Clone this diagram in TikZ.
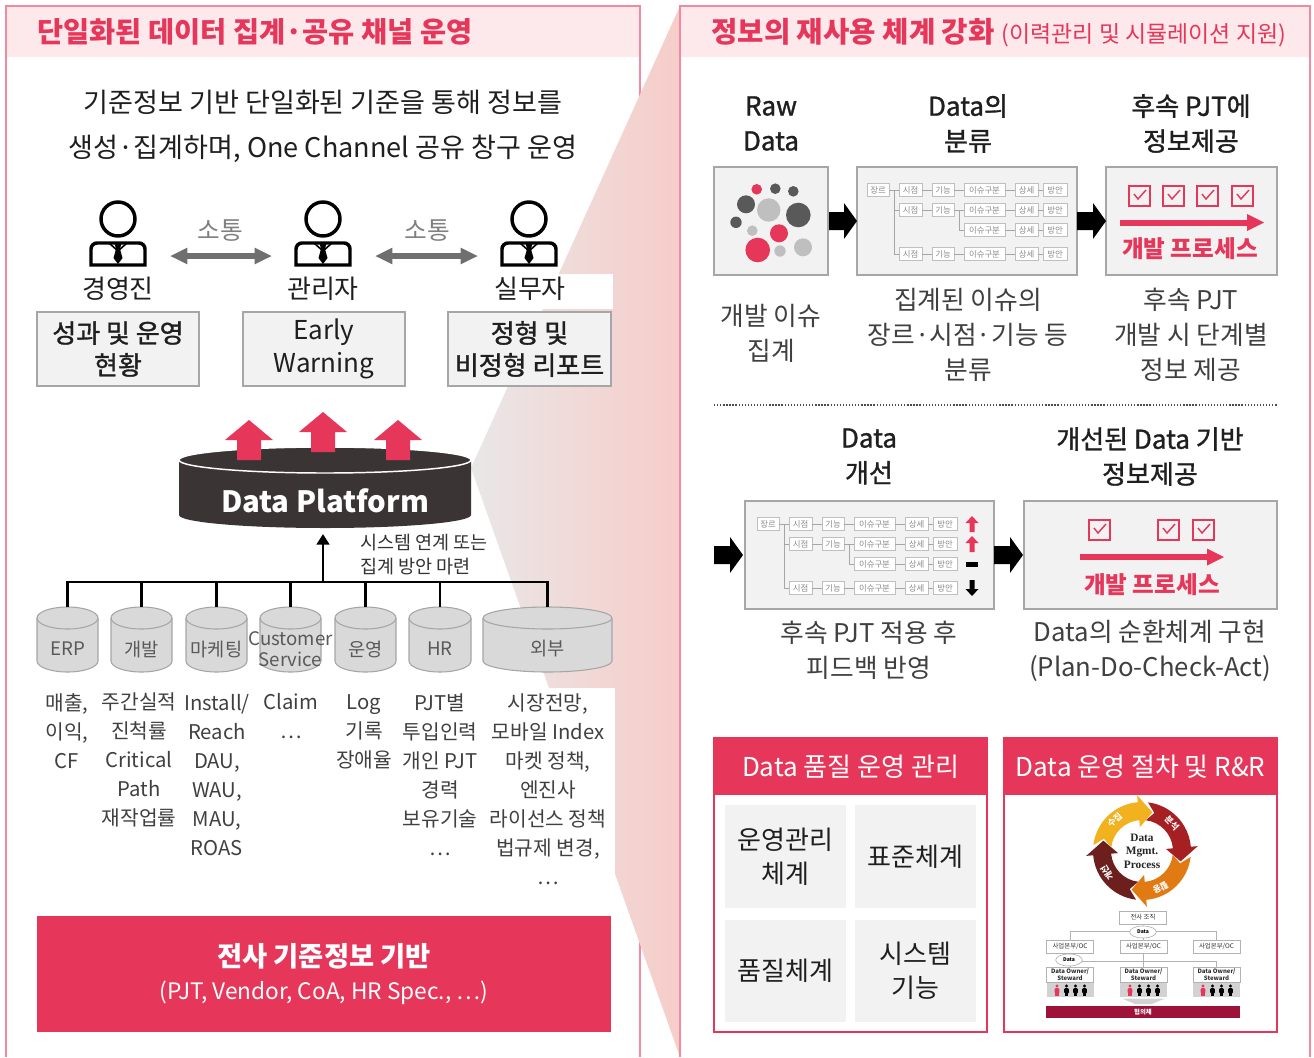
\documentclass[tikz,border=0pt]{standalone}
\usepackage{fontspec}
\setmainfont{Noto Sans CJK KR}
\newfontfamily\medium[FakeBold=1.2]{Noto Sans CJK KR}
\newfontfamily\serifbf{Liberation Serif}
\usetikzlibrary{arrows.meta,shapes.geometric}

\definecolor{crimson}{HTML}{E6375B}
\definecolor{hdrpink}{HTML}{FDE9EB}
\definecolor{pborder}{HTML}{F08AA0}
\definecolor{boxfill}{HTML}{F2F2F2}
\definecolor{boxline}{HTML}{A6A6A6}
\definecolor{platdark}{HTML}{3A3435}
\definecolor{cylfill}{HTML}{D9D9D9}
\definecolor{cylline}{HTML}{A6A6A6}
\definecolor{txtdark}{HTML}{1F1F1F}
\definecolor{txtgray}{HTML}{404040}
\definecolor{cyltext}{HTML}{595959}
\definecolor{arrgray}{HTML}{6F6F6F}
\definecolor{talkgray}{HTML}{808080}
\definecolor{funL}{HTML}{E9E7E7}
\definecolor{funR}{HTML}{F6CDC9}
\definecolor{dotdark}{HTML}{595959}
\definecolor{dotlight}{HTML}{BFBFBF}
\definecolor{cellline}{HTML}{BFBFBF}
\definecolor{celltext}{HTML}{8C8C8C}
\definecolor{cgold}{HTML}{F2B11F}
\definecolor{cred}{HTML}{A61F23}
\definecolor{corange}{HTML}{E17A12}
\definecolor{cbrown}{HTML}{6D1F1D}
\definecolor{maroon}{HTML}{9C1238}

\newcommand\fz[2]{\fontsize{#1}{#2}\selectfont}
\newcommand\mdots{⋯}

% database cylinder: left x, right x, label, node name
\newcommand\cyl[4]{%
  \pgfmathsetmacro\cx{(#1+#2)/2}\pgfmathsetmacro\rx{(#2-#1)/2}%
  \path[fill=cylfill, draw=cylline, line width=0.8pt] (#1,618) -- (#1,661)
    arc[start angle=180, end angle=0, x radius=\rx, y radius=11] -- (#2,618)
    arc[start angle=0, end angle=-180, x radius=\rx, y radius=11] -- cycle;
  \draw[cylline, line width=0.8pt] (#1,618) arc[start angle=180, end angle=0, x radius=\rx, y radius=11];
  \coordinate (#4top) at (\cx,607);
  \node[lbl, text=cyltext, font=\fz{14}{15.75}] (#4) at (\cx,649) {#3};
}
% red arrow pointing up: centre x, tip y
\newcommand\uparr[2]{%
  \fill[crimson] (#1-12,#2+40) -- (#1-12,#2+20) -- (#1-24,#2+20) -- (#1,#2)
    -- (#1+24,#2+20) -- (#1+12,#2+20) -- (#1+12,#2+40) -- cycle;}
% black block arrow: x from, x to, centre y
\newcommand\blockarr[3]{%
  \fill (#1,#3-9) -- (#2-13,#3-9) -- (#2-13,#3-18) -- (#2,#3) -- (#2-13,#3+18)
    -- (#2-13,#3+9) -- (#1,#3+9) -- cycle;}
% check box: left x, top y
\newcommand\chk[2]{%
  \draw[crimson, line width=1.1pt] (#1,#2) rectangle (#1+21,#2+20);
  \draw[crimson, line width=1.1pt] (#1+5,#2+8) -- (#1+9,#2+13) -- (#1+17,#2+4);}
% one segment of the management cycle: colour, start angle, tip angle
\newcommand\cycarrow[3]{%
  \pgfmathsetmacro\aa{#2-8}\pgfmathsetmacro\ab{#3-20}\pgfmathsetmacro\an{#2+3}%
  \fill[#1] (\aa:49) arc[start angle=\aa, end angle=\ab, radius=49] -- (\ab:56) -- (#3:40)
    -- (\ab:24) -- (\ab:31) arc[start angle=\ab, end angle=\aa, radius=31] -- (\an:40) -- cycle;}

\tikzset{
  lbl/.style={inner sep=0pt, align=center, text=txtdark},
  graybox/.style={fill=boxfill, draw=boxline, line width=0.8pt},
  garrow/.style={draw=arrgray, line width=3.8pt,
    {Triangle[length=13pt,width=11.5pt]}-{Triangle[length=13pt,width=11.5pt]}},
  cell/.style={draw=cellline, fill=white, inner sep=0pt, minimum height=9.75pt,
    text=celltext, font=\fz{6.3}{7}, line width=0.5pt},
  tree/.style={draw=gray!70, line width=0.6pt},
  orgbox/.style={draw=gray!60, fill=white, inner sep=0pt, minimum height=9.75pt,
    minimum width=35pt, font=\fz{4.8}{5.5}, text=black!80, line width=0.4pt},
  person/.pic={
    \draw[line width=2.6pt] (0,0) circle (17);
    \draw[line width=2.6pt] (-27,46) -- (-27,30) arc[start angle=180, end angle=270, radius=6]
      -- (21,24) arc[start angle=270, end angle=360, radius=6] -- (27,46) -- cycle;
    \fill (-3.5,24) -- (3.5,24) -- (2,30) -- (4.5,39) -- (0,45) -- (-4.5,39) -- (-2,30) -- cycle;
    \draw[line width=1.2pt] (-9,24) -- (0,32) -- (9,24);
  },
  issuetree/.pic={
    \node[cell, minimum width=16.5pt] (-g) at (11,0) {장르};
    \foreach \r/\yy in {1/0, 2/20, 4/64} {
      \node[cell, minimum width=17.25pt] (-s\r) at (43.5,\yy) {시점};
      \node[cell, minimum width=16.5pt] (-f\r) at (76,\yy) {기능};
      \draw[tree] (-s\r) -- (-f\r);
    }
    \foreach \r/\yy in {1/0, 2/20, 3/40, 4/64} {
      \node[cell, minimum width=30.75pt] (-i\r) at (117.5,\yy) {이슈구분};
      \node[cell, minimum width=17.25pt] (-d\r) at (159.5,\yy) {상세};
      \node[cell, minimum width=18pt] (-m\r) at (188,\yy) {방안};
      \draw[tree] (-i\r) -- (-d\r);
      \draw[tree] (-d\r) -- (-m\r);
    }
    \draw[tree] (-g) -- (-s1);
    \draw[tree] (-f1) -- (-i1);
    \draw[tree] (-f2) -- (-i2);
    \draw[tree] (-f4) -- (-i4);
    \draw[tree] (27,0) |- (-s2.west);
    \draw[tree] (27,0) |- (-s4.west);
    \draw[tree] (92,20) |- (-i3.west);
  },
  orgman/.pic={
    \fill (0,-4) circle (1.6);
    \fill[rounded corners=0.8pt] (-2.3,-2) rectangle (2.3,3.5);
    \fill (-1.6,3) rectangle (1.6,6);
  }
}

\begin{document}
\begin{tikzpicture}[x=0.75pt,y=-0.75pt]
\useasboundingbox (0,0) rectangle (1314,1057);
\fill[white] (0,0) rectangle (1314,1057);

% ================= left panel frame
\fill[hdrpink] (6,6) rectangle (640,57);
\draw[pborder, line width=1pt] (6,1057) -- (6,6) -- (640,6) -- (640,1057);

% zoom funnel between the panels
\shade[left color=funL, right color=funR] (680,6) -- (471,468) -- (680,1057) -- cycle;
\fill[white] (446,274) rectangle (613,309);
\fill[white] (30,688) rectangle (615,895);

\node[anchor=west, inner sep=0pt, text=crimson, font=\fz{21.3}{25}\bfseries] (ltitle) at (37,32)
  {단일화된 데이터 집계·공유 채널 운영};

\node[lbl, font=\fz{20.3}{33.75}, text=black!88] (lsub) at (323,126.5)
  {기준정보 기반 단일화된 기준을 통해 정보를\\생성·집계하며, One Channel 공유 창구 운영};

% people
\pic (p1) at (118,219) {person};
\pic (p2) at (323,219) {person};
\pic (p3) at (529,219) {person};
\node[lbl, font=\fz{19.5}{22}] (n1) at (118,289) {경영진};
\node[lbl, font=\fz{19.5}{22}] (n2) at (323,289) {관리자};
\node[lbl, font=\fz{19.5}{22}] (n3) at (530,289) {실무자};

\node[lbl, text=talkgray, font=\fz{18.5}{20}] (talk1) at (220,231) {소통};
\node[lbl, text=talkgray, font=\fz{18.5}{20}] (talk2) at (427,231) {소통};
\coordinate (a1l) at (170,256); \coordinate (a1r) at (272,256);
\coordinate (a2l) at (375,256); \coordinate (a2r) at (478,256);
\draw[garrow] (a1l) -- (a1r);
\draw[garrow] (a2l) -- (a2r);

% output boxes
\draw[graybox] (37,312) rectangle (199,386);
\draw[graybox] (243,312) rectangle (405,386);
\draw[graybox] (448,312) rectangle (611,386);
\node[lbl, font=\medium\fz{19.5}{24}] (o1) at (118,349) {성과 및 운영\\현황};
\node[lbl, font=\fz{19.5}{24.5}] (o2) at (324,349) {Early\\Warning};
\node[lbl, font=\medium\fz{19.5}{24}] (o3) at (529.5,349) {정형 및\\비정형 리포트};

% data platform
\fill[platdark] (179,460) -- (179,515) arc[start angle=180, end angle=0, x radius=146, y radius=13]
  -- (471,460) -- cycle;
\draw[white, fill=platdark, line width=1.1pt] (325,460) ellipse [x radius=146, y radius=13];
\uparr{249}{420}
\uparr{323}{412}
\uparr{398}{420}
\node[lbl, text=white, font=\fz{22}{26}\bfseries] (dp) at (325,501) {Data Platform};
\coordinate (dpb) at (323,534);

% feeding bus
\coordinate (bus) at (323,582);
\draw[line width=2.2pt, -{Triangle[length=8pt,width=9.5pt]}] (bus) -- (dpb);
\node[lbl, anchor=west, align=left, font=\fz{13.9}{18}, text=black!80] (sys) at (360,555)
  {시스템 연계 또는\\집계 방안 마련};

\cyl{37}{98}{ERP}{c1}
\cyl{111}{172}{개발}{c2}
\cyl{186}{247}{마케팅}{c3}
\cyl{260}{321}{Customer\\Service}{c4}
\cyl{335}{396}{운영}{c5}
\cyl{409}{471}{HR}{c6}
\cyl{483}{612}{외부}{c7}
\draw[line width=2.2pt] (c1top) -- (c1top |- bus) -- (c7top |- bus) -- (c7top);
\foreach \c in {c2,c3,c4,c5,c6} \draw[line width=2.2pt] (\c top |- bus) -- (\c top);

% data items per source
\tikzset{rows/.style={lbl, text=txtgray, font=\fz{15.2}{21.75}}}
\node[rows] (d1) at (67,731.5) {매출,\\이익,\\CF};
\node[rows] (d2) at (139,760) {주간실적\\진척률\\Critical\\Path\\재작업률};
\node[rows] (d3) at (217,775) {Install/\\Reach\\DAU,\\WAU,\\MAU,\\ROAS};
\node[rows] (d4) at (291,716.5) {Claim\\\mdots};
\node[rows] (d5) at (364,731.5) {Log\\기록\\장애율};
\node[rows] (d6) at (440,775) {PJT별\\투입인력\\개인 PJT\\경력\\보유기술\\\mdots};
\node[rows] (d7) at (548,789) {시장전망,\\모바일 Index\\마켓 정책,\\엔진사\\라이선스 정책\\법규제 변경,\\\mdots};

% base information
\fill[crimson] (37,916) rectangle (611,1032);
\node[lbl, text=white, font=\fz{20.5}{22}\bfseries] (base1) at (324,956) {전사 기준정보 기반};
\node[lbl, text=white, font=\fz{17}{19}] (base2) at (324,993) {(PJT, Vendor, CoA, HR Spec., \mdots)};

% ================= right panel frame
\fill[hdrpink] (680,6) rectangle (1310,57);
\draw[pborder, line width=1pt] (680,1057) -- (680,6) -- (1310,6) -- (1310,1057);
\node[anchor=west, inner sep=0pt, text=crimson, font=\fz{21.5}{25}\bfseries] (rtitle) at (711,32)
  {정보의 재사용 체계 강화};
\node[anchor=base west, text=crimson, font=\fz{17.2}{19}, inner sep=0pt] (rsub)
  at ([xshift=5pt]rtitle.base east) {(이력관리 및 시뮬레이션 지원)};

% step headings
\tikzset{head/.style={lbl, font=\medium\fz{19.5}{26.25}},
         desc/.style={lbl, text=txtgray, font=\fz{19.3}{26.25}}}
\node[head] (h1) at (771,123.5) {Raw\\Data};
\node[head] (h2) at (968,123.5) {Data의\\분류};
\node[head] (h3) at (1191,123.5) {후속 PJT에\\정보제공};

\draw[graybox] (714,167) rectangle (828,275);
\draw[graybox] (857,167) rectangle (1077,275);
\draw[graybox] (1106,167) rectangle (1277,275);
\blockarr{829}{857}{221}
\blockarr{1077}{1106}{221}

% raw data dots
\foreach \px/\py/\pr/\pc in {756.7/189.3/5.3/crimson, 775.3/188.7/5.3/dotdark, 793.3/191.3/5.3/dotdark,
    746/204.3/9/dotdark, 768.7/210/11.7/dotlight, 798.3/215/12.3/dotdark, 736/222.3/5.7/dotdark,
    752.3/230.7/5.3/dotlight, 779/233.3/9/crimson, 757.7/250/12.3/crimson, 780/251/5.7/dotlight,
    803/247.3/9/dotlight}
  \fill[\pc] (\px,\py) circle (\pr);

\pic (tree1) at (867,190) {issuetree};

\chk{1129}{186}\chk{1163}{186}\chk{1197}{186}\chk{1232}{186}
\fill[crimson] (1120,219.5) rectangle (1248,225.5);
\fill[crimson] (1247,214) -- (1264,222.5) -- (1247,231) -- cycle;
\node[lbl, text=crimson, font=\fz{17.7}{19}\bfseries] (dev1) at (1190,249) {개발 프로세스};

\node[desc] (t1) at (771,333.5) {개발 이슈\\집계};
\node[desc] (t2) at (968,335) {집계된 이슈의\\장르·시점·기능 등\\분류};
\node[desc] (t3) at (1191,335) {후속 PJT\\개발 시 단계별\\정보 제공};

\draw[black!70, line width=0.8pt, dash pattern=on 1pt off 1.3pt] (714,405) -- (1277,405);

\node[head] (h4) at (869,456.5) {Data\\개선};
\node[head] (h5) at (1150,456.5) {개선된 Data 기반\\정보제공};

\blockarr{714}{743}{555}
\draw[graybox] (745,501) rectangle (994,609);
\blockarr{994}{1023}{555}
\draw[graybox] (1024,501) rectangle (1277,609);

\pic (tree2) at (757,524) {issuetree};
% trend markers
\foreach \yy in {524,544}
  \fill[crimson] (972,\yy-8) -- (978.5,\yy-1) -- (974.5,\yy-1) -- (974.5,\yy+8) -- (969.5,\yy+8)
    -- (969.5,\yy-1) -- (965.5,\yy-1) -- cycle;
\fill (966,562) rectangle (978,566.5);
\fill (972,596) -- (978.5,589) -- (974.5,589) -- (974.5,580) -- (969.5,580) -- (969.5,589)
  -- (965.5,589) -- cycle;

\chk{1089}{520}\chk{1158}{520}\chk{1193}{520}
\fill[crimson] (1080,554) rectangle (1208,560);
\fill[crimson] (1207,548.5) -- (1224,557) -- (1207,565.5) -- cycle;
\node[lbl, text=crimson, font=\fz{17.7}{19}\bfseries] (dev2) at (1152,585) {개발 프로세스};

\node[desc] (t4) at (869,650.5) {후속 PJT 적용 후\\피드백 반영};
\node[desc] (t5) at (1150,650.5) {Data의 순환체계 구현\\(Plan-Do-Check-Act)};

% ================= quality management box
\fill[white] (714,738) rectangle (987,1032);
\fill[crimson] (714,738) rectangle (987,795);
\draw[crimson, line width=1pt] (714,738) rectangle (987,1032);
\node[lbl, text=white, font=\fz{19.5}{20}] (qh) at (850.5,767) {Data 품질 운영 관리};
\fill[boxfill] (725,805) rectangle (846,908);
\fill[boxfill] (855,805) rectangle (976,908);
\fill[boxfill] (725,920) rectangle (846,1022);
\fill[boxfill] (855,920) rectangle (976,1022);
\tikzset{cellt/.style={lbl, font=\fz{19.5}{25.5}}}
\node[cellt] (q1) at (785.5,856.5) {운영관리\\체계};
\node[cellt] (q2) at (915.5,856.5) {표준체계};
\node[cellt] (q3) at (785.5,971) {품질체계};
\node[cellt] (q4) at (915.5,971) {시스템\\기능};

% ================= process and R&R box
\fill[white] (1004,738) rectangle (1277,1032);
\fill[crimson] (1004,738) rectangle (1277,795);
\draw[crimson, line width=1pt] (1004,738) rectangle (1277,1032);
\node[lbl, text=white, font=\fz{19.5}{20}] (ph) at (1140.5,767) {Data 운영 절차 및 R\&R};

\begin{scope}[shift={(1142,851)}]
  \cycarrow{cred}{285}{375}
  \cycarrow{corange}{15}{105}
  \cycarrow{cbrown}{105}{195}
  \cycarrow{cgold}{195}{285}
  \node[lbl, text=white, font=\fz{6.5}{7}\bfseries, rotate=41] (cy1) at (229:41.5) {수집};
  \node[lbl, text=white, font=\fz{6.5}{7}\bfseries, rotate=-47] (cy2) at (317:41) {분석};
  \node[lbl, text=white, font=\fz{6.5}{7}\bfseries, rotate=-153] (cy3) at (63:41) {활용};
  \node[lbl, text=white, font=\fz{6.5}{7}\bfseries, rotate=122] (cy4) at (148:41) {개선};
  \node[lbl, font=\serifbf\fz{8.5}{10}\bfseries, text=black!85] (cyc) at (0,0) {Data\\Mgmt.\\Process};
\end{scope}

% organisation chart
\node[orgbox] (org) at (1143,917.5) {전사 조직};
\node[orgbox] (bu1) at (1070,946.5) {사업본부/OC};
\node[orgbox] (bu2) at (1143.5,946.5) {사업본부/OC};
\node[orgbox] (bu3) at (1216.5,946.5) {사업본부/OC};
\draw[gray!60, line width=0.5pt] (bu1.north) |- (1143,931) -| (bu3.north);
\draw[gray!60, line width=0.5pt] (org.south) -- (bu2.north);
\node[ellipse, draw=gray!70, fill=white, inner sep=0pt, minimum width=20pt, minimum height=9pt,
  font=\fz{3.8}{4}\bfseries] (dt1) at (1143,932) {Data};
\node[orgbox, minimum height=11.25pt, font=\fz{4.5}{5}\bfseries, align=center] (ow1) at (1070,974.5) {Data Owner/\\Steward};
\node[orgbox, minimum height=11.25pt, font=\fz{4.5}{5}\bfseries, align=center] (ow2) at (1143.5,974.5) {Data Owner/\\Steward};
\node[orgbox, minimum height=11.25pt, font=\fz{4.5}{5}\bfseries, align=center] (ow3) at (1216.5,974.5) {Data Owner/\\Steward};
\draw[gray!60, line width=0.5pt] (ow1.north) |- (1143,961) -| (ow3.north);
\draw[gray!60, line width=0.5pt] (bu2.south) -- (ow2.north);
\draw[gray!60, line width=0.5pt] (bu1.south) -- (ow1.north);
\node[ellipse, draw=gray!70, fill=white, inner sep=0pt, minimum width=20pt, minimum height=9pt,
  font=\fz{3.8}{4}\bfseries] (dt2) at (1069,960) {Data};
\foreach \bx in {1047,1120,1193} {
  \fill[gray!35] (\bx,983) rectangle (\bx+46.5,997);
  \pic[crimson] at (\bx+10,990) {orgman};
  \pic at (\bx+19.5,990) {orgman};
  \pic at (\bx+28.5,990) {orgman};
  \pic at (\bx+37.5,990) {orgman};
}
\fill[gray!35] (1122,998.5) -- (1165,998.5) -- (1152,1004) -- (1135,1004) -- cycle;
\fill[maroon] (1046,1006) rectangle (1240,1018);
\node[lbl, text=white, font=\fz{4.8}{5}\bfseries] (cns) at (1143,1012) {협의체};

\end{tikzpicture}
\end{document}
